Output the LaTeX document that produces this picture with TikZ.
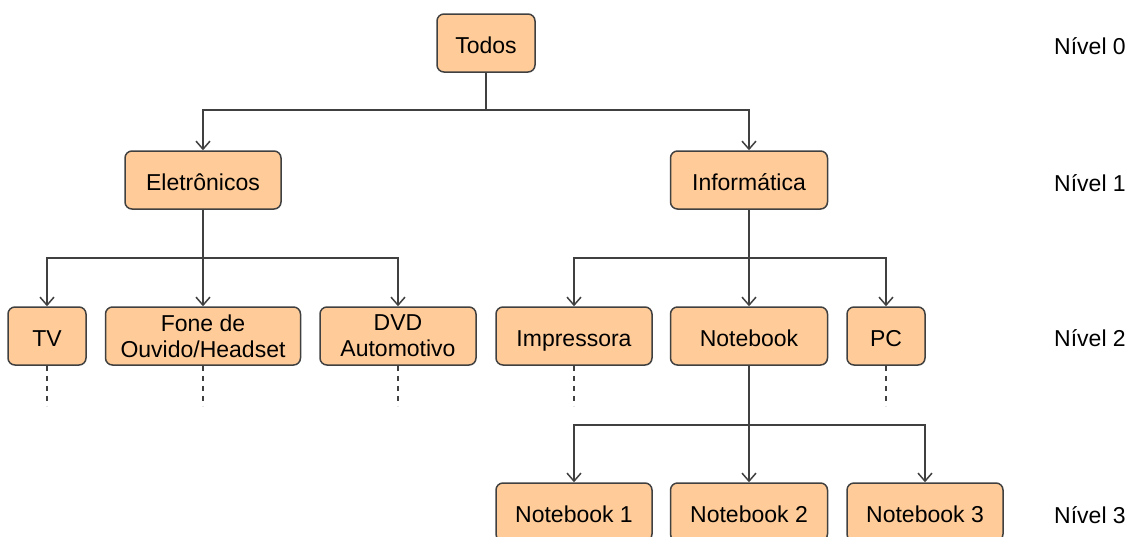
\documentclass[tikz,border=0pt]{standalone}
\usepackage{fontspec}
\setmainfont{Liberation Sans}
\usetikzlibrary{arrows.meta}
\definecolor{boxfill}{HTML}{FFCC99}
\definecolor{edgegray}{HTML}{404040}
\begin{document}
\begin{tikzpicture}[x=1pt, y=-1pt,
    catbox/.style={draw=edgegray, line width=1.5pt, fill=boxfill,
      rounded corners=7pt, minimum height=58pt, inner sep=2pt,
      text height=21pt, text depth=1pt,
      align=center, font=\fontsize{23}{26}\selectfont},
    link/.style={draw=edgegray, line width=1.5pt},
    arr/.style={link, -{Straight Barb[length=8pt,width=14pt,line width=1.5pt]}},
    stub/.style={link, dash pattern=on 5pt off 5pt},
    lvl/.style={font=\fontsize{23}{26}\selectfont}]
  \useasboundingbox (0,0) rectangle (1132,536);

  % Level 0
  \node[catbox, minimum width=98pt] (todos) at (486,43) {Todos};

  % Level 1
  \node[catbox, minimum width=156pt] (elet) at (203,180) {Eletrônicos};
  \node[catbox, minimum width=157pt] (info) at (749,180) {Informática};

  % Level 2
  \node[catbox, minimum width=78pt] (tv) at (47,336) {TV};
  \node[catbox, minimum width=195pt, text height=, text depth=] (fone) at (203,336) {Fone de\\Ouvido/Headset};
  \node[catbox, minimum width=156pt, text height=, text depth=] (dvd) at (398,336) {DVD\\Automotivo};
  \node[catbox, minimum width=156pt] (impr) at (574,336) {Impressora};
  \node[catbox, minimum width=157pt] (note) at (749,336) {Notebook};
  \node[catbox, minimum width=78pt] (pc) at (886,336) {PC};

  % Level 3
  \node[catbox, minimum width=156pt] (note1) at (574,512) {Notebook 1};
  \node[catbox, minimum width=157pt] (note2) at (749,512) {Notebook 2};
  \node[catbox, minimum width=156pt] (note3) at (925,512) {Notebook 3};

  % Bars
  \coordinate (bar0) at (0,110);
  \coordinate (bar1) at (0,258);
  \coordinate (bar2) at (0,425);

  % Connectors
  \foreach \child in {elet,info}
    \draw[arr] (todos.south) -- (todos.south |- bar0) -| (\child.north);
  \foreach \child in {tv,fone,dvd}
    \draw[arr] (elet.south) -- (elet.south |- bar1) -| (\child.north);
  \foreach \child in {impr,note,pc}
    \draw[arr] (info.south) -- (info.south |- bar1) -| (\child.north);
  \foreach \child in {note1,note2,note3}
    \draw[arr] (note.south) -- (note.south |- bar2) -| (\child.north);

  % Dashed continuations
  \foreach \leaf in {tv,fone,dvd,impr,pc}
    \draw[stub] (\leaf.south) -- ++(0,40);

  % Level labels
  \node[lvl] (lv0) at (1090,46) {Nível 0};
  \node[lvl] (lv1) at (1090,183) {Nível 1};
  \node[lvl] (lv2) at (1090,338) {Nível 2};
  \node[lvl] (lv3) at (1090,515) {Nível 3};
\end{tikzpicture}
\end{document}
